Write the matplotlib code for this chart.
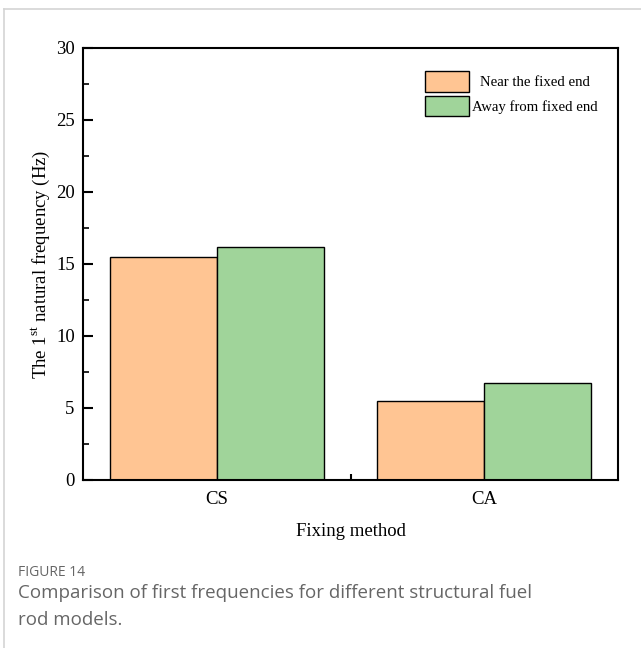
import matplotlib.pyplot as plt
import numpy as np

# data
methods = ["CS", "CA"]
near_end = [15.5, 5.5]      # Near the fixed end
away_end = [16.2, 6.75]     # Away from fixed end
y_ticks = [0, 5, 10, 15, 20, 25, 30]

serif = ["Liberation Serif", "DejaVu Serif"]
plt.rcParams["font.family"] = serif
plt.rcParams["mathtext.fontset"] = "custom"
plt.rcParams["mathtext.rm"] = "Liberation Serif"

fig = plt.figure(figsize=(6.41, 6.48), dpi=100)

# light grey frame round the figure panel (top and left edges visible)
fig.add_artist(plt.Line2D([4/641, 4/641], [0, 1 - 9/648], color="#d4d4d4", lw=1.2, transform=fig.transFigure))
fig.add_artist(plt.Line2D([4/641, 1], [1 - 9/648, 1 - 9/648], color="#d4d4d4", lw=1.2, transform=fig.transFigure))

ax = fig.add_axes([83/641, 1 - 480/648, (618 - 83)/641, (480 - 48)/648])

x = np.arange(len(methods))
w = 0.4
ax.bar(x - w/2, near_end, w, color="#FFC593", edgecolor="black", linewidth=1.0, label="Near the fixed end", zorder=2)
ax.bar(x + w/2, away_end, w, color="#A0D49A", edgecolor="black", linewidth=1.0, label="Away from fixed end", zorder=2)

ax.set_xlim(-0.5, 1.5)
ax.set_ylim(0, 30)
ax.set_yticks(y_ticks)
ax.set_yticks(np.arange(2.5, 30, 5), minor=True)
ax.set_xticks(x)
ax.set_xticklabels(methods)
ax.set_xticks([0.5], minor=True)

ax.tick_params(axis="y", which="major", direction="in", length=7, width=1.5, labelsize=13.5, pad=6)
ax.tick_params(axis="y", which="minor", direction="in", length=4, width=1.2)
ax.tick_params(axis="x", which="major", length=0, labelsize=13.5, pad=8)
ax.tick_params(axis="x", which="minor", direction="in", length=4, width=1.5)
for s in ax.spines.values():
    s.set_linewidth(1.5)

ax.set_xlabel("Fixing method", fontsize=13.5, labelpad=11)
ax.set_ylabel("The 1$^{\\mathrm{st}}$ natural frequency (Hz)", fontsize=13.5, labelpad=3)

leg = ax.legend(loc="upper right", bbox_to_anchor=(0.986, 0.978), frameon=False, fontsize=10.6,
                handlelength=3.0, handleheight=1.8, labelspacing=0.27, handletextpad=0.2)
# first label sits centred over the second one in the reference
leg.get_texts()[0].set_position((8, 0))

# caption
cap = ["Open Sans", "DejaVu Sans"]
fig.text(18/641, 1 - 573/648, "FIGURE 14", family=cap, fontsize=10, color="#666666", va="center")
fig.text(18/641, 1 - 593/648, "Comparison of first frequencies for different structural fuel",
         family=cap, fontsize=13.5, color="#666666", va="center")
fig.text(18/641, 1 - 620/648, "rod models.", family=cap, fontsize=13.5, color="#666666", va="center")

plt.savefig("out.png", dpi=100)
